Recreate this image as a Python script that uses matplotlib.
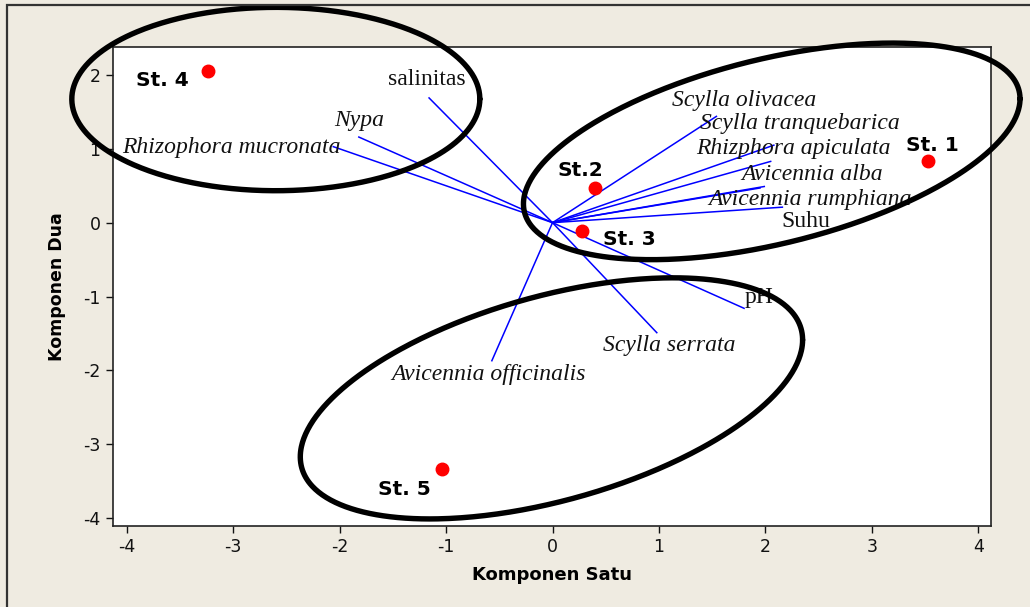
import numpy as np
import matplotlib.pyplot as plt
from matplotlib.patches import Rectangle

plt.rcParams['axes.unicode_minus'] = False

# skor stasiun pada komponen 1 dan 2
stasiun = ['St. 1', 'St.2', 'St. 3', 'St. 4', 'St. 5']
skor_x = [3.53, 0.40, 0.28, -3.24, -1.04]
skor_y = [0.84, 0.47, -0.11, 2.06, -3.33]

# loading variabel (ujung garis biru)
variabel = ['Scylla olivacea', 'Scylla tranquebarica', 'Rhizphora apiculata',
            'Avicennia alba', 'Avicennia rumphiana', 'Suhu', 'pH',
            'Scylla serrata', 'Avicennia officinalis', 'Rhizophora mucronata',
            'Nypa', 'salinitas']
load_x = [1.95, 1.54, 2.08, 2.05, 1.99, 2.16, 1.80, 0.98, -0.57, -2.06, -1.82, -1.16]
load_y = [0.47, 1.44, 1.05, 0.83, 0.49, 0.21, -1.16, -1.49, -1.87, 1.03, 1.16, 1.69]
miring = [True, True, True, True, True, False, False, True, True, True, True, False]

# posisi teks label
lab_x = [1.80, 2.32, 2.26, 2.44, 2.42, 2.38, 1.94, 1.10, -0.60, -3.02, -1.82, -1.18]
lab_y = [1.66, 1.34, 1.00, 0.65, 0.32, 0.01, -1.02, -1.67, -2.05, 1.02, 1.38, 1.94]
st_lab_x = [3.57, 0.26, 0.72, -3.67, -1.39]
st_lab_y = [1.05, 0.71, -0.23, 1.92, -3.61]

# kelompok (elips): pusat, setengah lebar, setengah tinggi, fase
kel_cx = [-2.60, 2.06, -0.01]
kel_cy = [1.675, 0.966, -2.38]
kel_a = [1.917, 2.333, 2.36]
kel_b = [1.242, 1.467, 1.633]
kel_fase = [90, 61, 61]

bg = '#efebe1'
fig = plt.figure(figsize=(10.3, 6.07), dpi=100, facecolor=bg)
ax = fig.add_axes([0.1097, 0.1339, 0.8524, 0.7887])
ax.set_facecolor('white')

# bingkai luar
fig.patches.append(Rectangle((7/1030, -0.05), 1.1, 1 - 5/607 + 0.05,
                             transform=fig.transFigure, fill=False,
                             edgecolor='#333333', lw=1.6))

for x, y in zip(load_x, load_y):
    ax.plot([0, x], [0, y], color='#0000ff', lw=1.1, zorder=2)

for nama, x, y, it in zip(variabel, lab_x, lab_y, miring):
    ax.text(x, y, nama, fontsize=17, family='Liberation Serif',
            style='italic' if it else 'normal', color='#111111',
            ha='center', va='center', zorder=3)

ax.plot(skor_x, skor_y, 'o', color='#ff0000', ms=9, mec='#ff0000', zorder=4)
for nama, x, y in zip(stasiun, st_lab_x, st_lab_y):
    ax.text(x, y, nama, fontsize=14.5, fontweight='bold', ha='center',
            va='center', zorder=4)

t = np.linspace(0, 2*np.pi, 500)
for cx, cy, a, b, f in zip(kel_cx, kel_cy, kel_a, kel_b, kel_fase):
    ax.plot(cx + a*np.cos(t), cy + b*np.cos(t + np.radians(f)), color='black',
            lw=3.9, clip_on=False, zorder=6, solid_joinstyle='round',
            solid_capstyle='round')

ax.set_xlim(-4.13, 4.12)
ax.set_ylim(-4.105, 2.38)
ax.set_xticks(range(-4, 5))
ax.set_yticks(range(-4, 3))
ax.tick_params(direction='out', length=5, width=1, labelsize=12.5, pad=4,
               colors='#111111')
for s in ax.spines.values():
    s.set_linewidth(1.2)
    s.set_color('#222222')

ax.set_xlabel('Komponen Satu', fontsize=13, fontweight='bold', labelpad=7)
ax.set_ylabel('Komponen Dua', fontsize=12.5, fontweight='bold', labelpad=12)

fig.savefig('out.png', dpi=100, facecolor=bg)
